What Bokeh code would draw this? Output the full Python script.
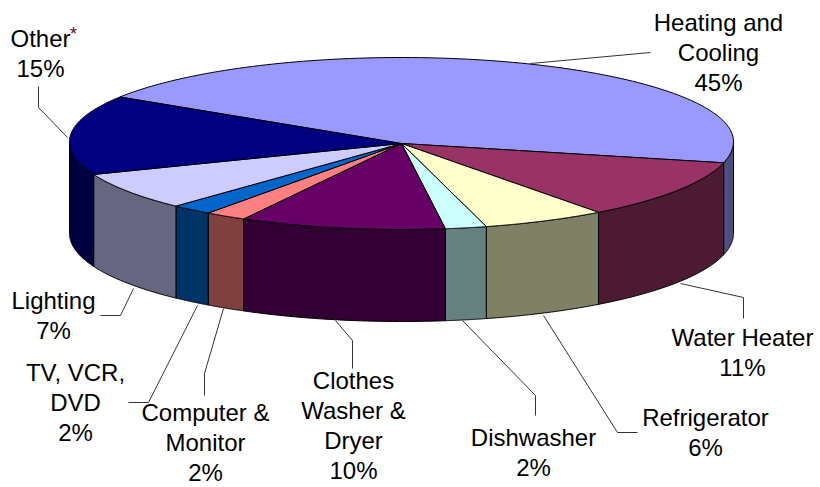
import numpy as np
from bokeh.plotting import figure
from bokeh.models import Range1d
from bokeh.core.properties import value
from bokeh.embed import file_html
from bokeh.resources import INLINE

# ---- data ----
categories = ["Heating and\nCooling", "Water Heater", "Refrigerator", "Dishwasher",
              "Clothes\nWasher &\nDryer", "Computer &\nMonitor", "TV, VCR,\nDVD",
              "Lighting", "Other"]
shares = [45, 11, 6, 2, 10, 2, 2, 7, 15]

# ---- style ----
top_colors = ["#9999FF", "#993366", "#FFFFCC", "#CCFFFF", "#660066",
              "#FF8080", "#0066CC", "#CCCCFF", "#000080"]
side_colors = ["#4D4D80", "#4D1A33", "#808066", "#668080", "#330033",
               "#804040", "#003366", "#666680", "#000040"]

# label layout (center of text block) and leader lines
label_pos = [(718, 52), (742, 352), (705, 432), (533, 452), (353, 425),
             (205, 442), (75, 402), (53, 315), (40, 53)]
line_step = 30
leaders = [
    [(530, 63), (650, 52)],
    [(680, 283), (743, 297), (743, 318)],
    [(543, 315), (617, 432), (637, 432)],
    [(462, 320), (535, 395), (535, 415)],
    [(335, 320), (352, 340), (352, 368)],
    [(223, 308), (204, 373), (204, 395)],
    [(197, 305), (148, 402), (128, 402)],
    [(133, 288), (120, 315), (100, 315)],
    [(67, 137), (38, 107), (38, 86)],
]

# ---- geometry ----
cx, cy, rx, ry_far, ry_near, depth = 401, 141, 332, 84, 88, 92
apex = (401, 143)
start = 148.0


def pt(a, dy=0.0):
    r = np.radians(a)
    s = np.sin(r)
    ry = ry_far if s > 0 else ry_near
    return cx + rx * np.cos(r), cy - ry * s + dy


W, H = 820, 487
p = figure(width=W, height=H, output_backend="svg", toolbar_location=None,
           x_range=Range1d(0, W), y_range=Range1d(H, 0), min_border=0)
p.axis.visible = False
p.grid.visible = False
p.outline_line_color = None
p.background_fill_color = "white"

total = float(sum(shares))
bounds = []
a = start
for s in shares:
    a1 = a - 360.0 * s / total
    bounds.append((a, a1))
    a = a1

# sides (lower half only)
sx, sy, sc = [], [], []
for (a0, a1), col in zip(bounds, side_colors):
    for k in (-1, 0, 1):
        lo = max(a1, -180 + 360 * k)
        hi = min(a0, 360 * k)
        if hi - lo > 0.01:
            ang = np.linspace(lo, hi, 60)
            top = [pt(t) for t in ang]
            bot = [pt(t, depth) for t in ang[::-1]]
            pts = top + bot
            sx.append([q[0] for q in pts])
            sy.append([q[1] for q in pts])
            sc.append(col)
p.patches(sx, sy, fill_color=sc, line_color="black", line_width=1)

# tops
tx, ty = [], []
for (a0, a1) in bounds:
    ang = np.linspace(a0, a1, 120)
    pts = [apex] + [pt(t) for t in ang]
    tx.append([q[0] for q in pts])
    ty.append([q[1] for q in pts])
p.patches(tx, ty, fill_color=top_colors, line_color="black", line_width=1)

# leader lines
p.multi_line([[q[0] for q in l] for l in leaders], [[q[1] for q in l] for l in leaders],
             line_color="#333333", line_width=1)

# labels, one text per line
lx, ly, lt = [], [], []
for c, v, (x0, y0) in zip(categories, shares, label_pos):
    lines = c.split("\n") + [f"{v}%"]
    n = len(lines)
    for i, s in enumerate(lines):
        lx.append(x0)
        ly.append(y0 + (i - (n - 1) / 2) * line_step)
        lt.append(s)
p.text(lx, ly, text=lt, text_align="center", text_baseline="middle",
       text_font=value("Liberation Sans"), text_font_size="24px", text_color="black")
p.text([73], [33], text=["*"], text_align="center", text_baseline="middle",
       text_font=value("Liberation Sans"), text_font_size="18px", text_color="#660033")

open("out.html", "w").write(file_html(p, INLINE))
